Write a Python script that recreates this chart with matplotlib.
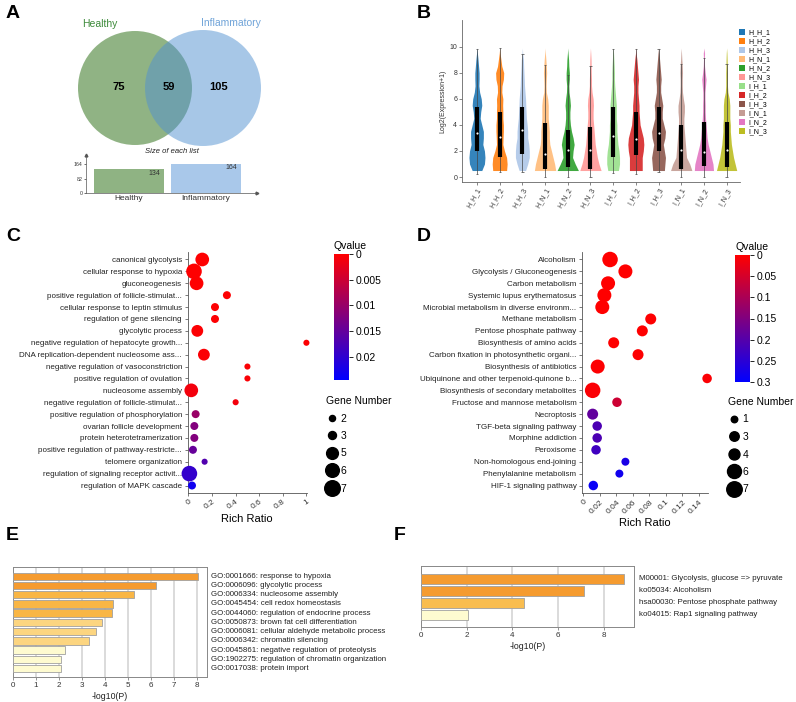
import numpy as np
import matplotlib
matplotlib.use('Agg')
import matplotlib.pyplot as plt
from matplotlib.patches import Circle, Patch
from matplotlib.lines import Line2D
from matplotlib.colors import LinearSegmentedColormap, Normalize
import matplotlib.cm as cm
import matplotlib.transforms as mtransforms

plt.rcParams['font.family'] = ['Liberation Sans', 'DejaVu Sans']

# ------------------------------------------------------------------ data
venn_sets = ['Healthy', 'Inflammatory']
venn_only = [75, 105]
venn_shared = 59
list_ticks = [0, 82, 164]

samples = ['H_H_1', 'H_H_2', 'H_H_3', 'H_N_1', 'H_N_2', 'H_N_3',
           'I_H_1', 'I_H_2', 'I_H_3', 'I_N_1', 'I_N_2', 'I_N_3']
violin_levels = [0.5, 1.0, 1.5, 2.0, 2.5, 3.0, 3.5, 4.0, 4.5, 5.0, 5.5, 6.0,
                 6.5, 7.0, 7.5, 8.0, 8.5, 9.0, 9.5, 9.9]
dens_H_H_1 = [0.45, 0.7, 0.75, 0.7, 0.55, 0.6, 0.6, 0.45, 0.3, 0.35, 0.45, 0.4,
              0.25, 0.18, 0.2, 0.2, 0.15, 0.1, 0.04, 0.0]
dens_H_H_2 = [0.65, 0.7, 0.65, 0.45, 0.3, 0.32, 0.35, 0.35, 0.3, 0.3, 0.28, 0.3,
              0.2, 0.22, 0.35, 0.38, 0.2, 0.12, 0.04, 0.0]
dens_H_H_3 = [0.3, 0.5, 0.65, 0.65, 0.6, 0.5, 0.5, 0.45, 0.38, 0.35, 0.32, 0.3,
              0.25, 0.2, 0.18, 0.15, 0.12, 0.1, 0.03, 0.0]
dens_H_N_1 = [1.0, 0.9, 0.75, 0.6, 0.45, 0.4, 0.4, 0.35, 0.3, 0.3, 0.3, 0.25,
              0.12, 0.1, 0.12, 0.15, 0.12, 0.08, 0.03, 0.0]
dens_H_N_2 = [1.0, 0.7, 0.45, 0.5, 0.6, 0.5, 0.35, 0.25, 0.2, 0.2, 0.25, 0.2,
              0.12, 0.1, 0.15, 0.15, 0.1, 0.08, 0.03, 0.0]
dens_H_N_3 = [1.0, 0.8, 0.65, 0.55, 0.45, 0.4, 0.35, 0.3, 0.25, 0.25, 0.28, 0.25,
              0.15, 0.1, 0.1, 0.08, 0.07, 0.06, 0.03, 0.0]
dens_I_H_1 = [0.5, 0.6, 0.6, 0.55, 0.45, 0.4, 0.35, 0.35, 0.3, 0.3, 0.3, 0.25,
              0.2, 0.15, 0.12, 0.12, 0.1, 0.07, 0.04, 0.0]
dens_I_H_2 = [0.6, 0.6, 0.6, 0.7, 0.75, 0.7, 0.55, 0.4, 0.35, 0.3, 0.3, 0.25,
              0.2, 0.2, 0.25, 0.2, 0.15, 0.1, 0.03, 0.0]
dens_I_H_3 = [0.55, 0.6, 0.65, 0.55, 0.45, 0.6, 0.65, 0.5, 0.35, 0.35, 0.4, 0.3,
              0.2, 0.2, 0.25, 0.2, 0.15, 0.1, 0.05, 0.0]
dens_I_N_1 = [1.0, 0.8, 0.5, 0.45, 0.4, 0.35, 0.3, 0.25, 0.25, 0.3, 0.3, 0.2,
              0.12, 0.1, 0.1, 0.12, 0.1, 0.06, 0.03, 0.0]
dens_I_N_2 = [0.9, 0.85, 0.7, 0.55, 0.4, 0.3, 0.25, 0.2, 0.15, 0.12, 0.12, 0.1,
              0.1, 0.15, 0.2, 0.12, 0.06, 0.04, 0.06, 0.0]
dens_I_N_3 = [0.95, 0.8, 0.65, 0.55, 0.45, 0.4, 0.35, 0.35, 0.3, 0.3, 0.3, 0.25,
              0.12, 0.08, 0.08, 0.08, 0.06, 0.05, 0.03, 0.0]
box_min = [0.25, 0.4, 0.4, 0.0, 0.0, 0.0, 0.3, 0.2, 0.4, 0.0, 0.0, 0.0]
box_q1 = [2.0, 1.5, 1.8, 0.65, 0.8, 0.65, 1.55, 1.7, 2.0, 0.65, 0.85, 0.75]
box_med = [3.4, 3.05, 3.6, 1.8, 2.05, 2.05, 3.15, 2.9, 3.35, 2.1, 1.95, 2.05]
box_q3 = [5.4, 5.0, 5.4, 4.15, 3.6, 3.85, 5.4, 5.0, 5.4, 4.0, 4.25, 4.2]
box_max = [9.8, 9.9, 9.45, 8.6, 7.8, 8.5, 9.8, 9.8, 9.8, 8.7, 9.1, 8.7]

go_terms = ['canonical glycolysis', 'cellular response to hypoxia', 'gluconeogenesis',
            'positive regulation of follicle-stimulat...', 'cellular response to leptin stimulus',
            'regulation of gene silencing', 'glycolytic process',
            'negative regulation of hepatocyte growth...',
            'DNA replication-dependent nucleosome ass...',
            'negative regulation of vasoconstriction', 'positive regulation of ovulation',
            'nucleosome assembly', 'negative regulation of follicle-stimulat...',
            'positive regulation of phosphorylation', 'ovarian follicle development',
            'protein heterotetramerization', 'positive regulation of pathway-restricte...',
            'telomere organization', 'regulation of signaling receptor activit...',
            'regulation of MAPK cascade']
go_ratio = [0.117, 0.047, 0.069, 0.326, 0.225, 0.225, 0.075, 1.0, 0.131, 0.5, 0.5,
            0.024, 0.4, 0.061, 0.05, 0.05, 0.038, 0.137, 0.008, 0.03]
go_qvalue = [0.0001, 0.0001, 0.0001, 0.0002, 0.0002, 0.0002, 0.0003, 0.0003, 0.0004,
             0.0005, 0.0005, 0.0012, 0.0012, 0.0098, 0.012, 0.012, 0.0147, 0.0167,
             0.0196, 0.023]
go_genes = [6, 7, 6, 3, 3, 3, 5, 2, 5, 2, 2, 6, 2, 3, 3, 3, 3, 2, 7, 3]
go_size_legend = [2, 3, 5, 6, 7]
go_q_ticks = [0, 0.005, 0.01, 0.015, 0.02]
go_q_max = 0.0245
go_ratio_ticks = [0, 0.2, 0.4, 0.6, 0.8, 1]

kegg_terms = ['Alcoholism', 'Glycolysis / Gluconeogenesis', 'Carbon metabolism',
              'Systemic lupus erythematosus', 'Microbial metabolism in diverse environm...',
              'Methane metabolism', 'Pentose phosphate pathway', 'Biosynthesis of amino acids',
              'Carbon fixation in photosynthetic organi...', 'Biosynthesis of antibiotics',
              'Ubiquinone and other terpenoid-quinone b...',
              'Biosynthesis of secondary metabolites', 'Fructose and mannose metabolism',
              'Necroptosis', 'TGF-beta signaling pathway', 'Morphine addiction', 'Peroxisome',
              'Non-homologous end-joining', 'Phenylalanine metabolism',
              'HIF-1 signaling pathway']
kegg_ratio = [0.0324, 0.051, 0.030, 0.0255, 0.023, 0.0817, 0.0715, 0.0368, 0.0663,
              0.0174, 0.150, 0.0113, 0.0408, 0.0113, 0.0168, 0.0168, 0.0154, 0.051,
              0.0437, 0.0121]
kegg_qvalue = [0.001, 0.001, 0.001, 0.001, 0.001, 0.002, 0.002, 0.002, 0.003, 0.003,
               0.005, 0.005, 0.06, 0.185, 0.21, 0.21, 0.225, 0.27, 0.28, 0.29]
kegg_genes = [7, 6, 6, 6, 6, 4, 4, 4, 4, 6, 3, 7, 3, 4, 3, 3, 3, 2, 2, 3]
kegg_size_legend = [1, 3, 4, 6, 7]
kegg_q_ticks = [0, 0.05, 0.1, 0.15, 0.2, 0.25, 0.3]
kegg_q_max = 0.3
kegg_ratio_ticks = [0, 0.02, 0.04, 0.06, 0.08, 0.1, 0.12, 0.14]

e_terms = ['GO:0001666: response to hypoxia', 'GO:0006096: glycolytic process',
           'GO:0006334: nucleosome assembly', 'GO:0045454: cell redox homeostasis',
           'GO:0044060: regulation of endocrine process',
           'GO:0050873: brown fat cell differentiation',
           'GO:0006081: cellular aldehyde metabolic process',
           'GO:0006342: chromatin silencing',
           'GO:0045861: negative regulation of proteolysis',
           'GO:1902275: regulation of chromatin organization',
           'GO:0017038: protein import']
e_logp = [8.04, 6.23, 5.25, 4.38, 4.30, 3.86, 3.64, 3.33, 2.29, 2.12, 2.10]

f_terms = ['M00001: Glycolysis, glucose => pyruvate', 'ko05034: Alcoholism',
           'hsa00030: Pentose phosphate pathway', 'ko04015: Rap1 signaling pathway']
f_logp = [8.86, 7.14, 4.52, 2.05]

# ------------------------------------------------------------------ styles
W, H = 796, 702
fig = plt.figure(figsize=(W / 100, H / 100), dpi=100)


def rect(l, t, r, b):
    return [l / W, 1 - b / H, (r - l) / W, (b - t) / H]


def panel_label(x, y, s):
    fig.text(x / W, 1 - y / H, s, fontsize=14, fontweight='bold', ha='left', va='top')


panel_label(6, 5, 'A')
panel_label(417, 5, 'B')
panel_label(6, 228, 'C')
panel_label(417, 228, 'D')
panel_label(6, 527, 'E')
panel_label(394, 527, 'F')

# ------------------------------------------------------------------ A: Venn
axv = fig.add_axes(rect(0, 0, 280, 150))
axv.set_xlim(0, 280)
axv.set_ylim(150, 0)
axv.axis('off')
axv.add_patch(Circle((135, 88), 57, facecolor='#23690b', alpha=0.5, lw=0))
axv.add_patch(Circle((203, 88), 58, facecolor='#5191d1', alpha=0.5, lw=0))
axv.text(100, 24, venn_sets[0], color='#3d8a3a', fontsize=7.5, ha='center', va='center')
axv.text(231, 23, venn_sets[1], color='#6fa3d8', fontsize=7.5, ha='center', va='center')
axv.text(119, 87, str(venn_only[0]), fontsize=8, fontweight='bold', ha='center', va='center')
axv.text(169, 87, str(venn_shared), fontsize=8, fontweight='bold', ha='center', va='center')
axv.text(219, 87, str(venn_only[1]), fontsize=8, fontweight='bold', ha='center', va='center')

list_sizes = [venn_only[0] + venn_shared, venn_only[1] + venn_shared]
axb = fig.add_axes(rect(86, 155, 257, 193))
axb.bar([0, 1], list_sizes, width=0.91, color=['#8fb383', '#a9c8ea'])
axb.set_xlim(-0.56, 1.66)
axb.set_ylim(0, 215)
axb.set_yticks(list_ticks)
axb.set_yticklabels([str(t) for t in list_ticks], fontsize=3.8, color='#333')
axb.set_xticks([0, 1])
axb.set_xticklabels(venn_sets, fontsize=6, color='#333')
axb.tick_params(axis='x', length=0, pad=1.5)
axb.tick_params(axis='y', length=1.5, width=0.4, pad=1)
for sp in ['top', 'right']:
    axb.spines[sp].set_visible(False)
for sp in ['left', 'bottom']:
    axb.spines[sp].set_linewidth(0.5)
    axb.spines[sp].set_color('#555')
axb.plot([0], [1], marker='^', ms=2, color='#555', transform=axb.transAxes, clip_on=False)
axb.plot([1], [0], marker='>', ms=2, color='#555', transform=axb.transAxes, clip_on=False)
for i, v in enumerate(list_sizes):
    axb.text(i + 0.40, v - 2, str(v), fontsize=5, ha='right', va='top', color='#333')
axb.set_title('Size of each list', fontsize=5.5, style='italic', pad=1, color='#222')

# ------------------------------------------------------------------ B: violins
violin_colors = ['#1f77b4', '#ff7f0e', '#aec7e8', '#ffbb78', '#2ca02c', '#ff9896',
                 '#98df8a', '#d62728', '#8c564b', '#c49c94', '#e377c2', '#bcbd22']
densities = [dens_H_H_1, dens_H_H_2, dens_H_H_3, dens_H_N_1, dens_H_N_2, dens_H_N_3,
             dens_I_H_1, dens_I_H_2, dens_I_H_3, dens_I_N_1, dens_I_N_2, dens_I_N_3]
axB = fig.add_axes(rect(462, 20, 740, 182))
lev = np.array(violin_levels)
pos = np.arange(len(samples))
for i, d in enumerate(densities):
    w = np.array(d) * 0.47
    axB.fill_betweenx(lev, i - w, i + w, color=violin_colors[i], lw=0, alpha=0.9, zorder=2)
axB.vlines(pos, box_min, box_max, color='#444', lw=0.5, zorder=3)
axB.hlines(box_min, pos - 0.05, pos + 0.05, color='#444', lw=0.5, zorder=3)
axB.hlines(box_max, pos - 0.05, pos + 0.05, color='#444', lw=0.5, zorder=3)
axB.vlines(pos, box_q1, box_q3, color='black', lw=3.0, zorder=4)
axB.scatter(pos, box_med, s=2.5, color='white', zorder=5, lw=0)
axB.set_xlim(-0.66, 11.59)
axB.set_ylim(-0.38, 12.05)
axB.set_yticks([0, 2, 4, 6, 8, 10])
axB.set_yticklabels(['0', '2', '4', '6', '8', '10'], fontsize=5, color='#333')
axB.set_xticks(pos)
axB.set_xticklabels(samples, fontsize=5, rotation=60, ha='right', rotation_mode='anchor',
                    color='#333')
axB.tick_params(length=2, width=0.5, pad=1.5, color='#555')
axB.set_ylabel('Log2(Expression+1)', fontsize=5, labelpad=2, color='#333')
for sp in ['top', 'right']:
    axB.spines[sp].set_visible(False)
for sp in ['left', 'bottom']:
    axB.spines[sp].set_linewidth(0.6)
    axB.spines[sp].set_color('#666')
handles = [Patch(facecolor=c, edgecolor='none') for c in violin_colors]
fig.legend(handles, samples, loc='upper left', bbox_to_anchor=(739 / W, 1 - 29 / H),
           frameon=False, fontsize=5, handlelength=0.9, handleheight=0.9,
           handletextpad=0.4, labelspacing=0.25, borderpad=0, borderaxespad=0)

# ------------------------------------------------------------------ C, D: bubbles
qcmap = LinearSegmentedColormap.from_list('qv', ['#ff0000', '#0000ff'])


def bubble_panel(ax_rect, xlim, terms, ratio, qv, genes, qmax, size_legend, qticks,
                 xticks, xticklabels, rot, cbar_rect, leg_anchor, dfun):
    ax = fig.add_axes(rect(*ax_rect))
    y = np.arange(len(terms))
    norm = Normalize(0, qmax)
    sizes = [(dfun(g) * 0.72) ** 2 for g in genes]
    ax.scatter(ratio, y, s=sizes, c=qv, cmap=qcmap, norm=norm, lw=0, zorder=3, clip_on=False)
    ax.set_xlim(*xlim)
    ax.set_ylim(len(terms) - 1 + 0.63, -0.63)
    ax.set_yticks(y)
    ax.set_yticklabels(terms, fontsize=5.8, color='#222')
    ax.set_xticks(xticks)
    ax.set_xticklabels(xticklabels, fontsize=6, rotation=rot, ha='right',
                       rotation_mode='anchor', color='#333')
    ax.tick_params(length=2.5, width=0.5, pad=1.5, color='#444')
    ax.set_xlabel('Rich Ratio', fontsize=8, labelpad=2)
    for sp in ['top', 'right']:
        ax.spines[sp].set_visible(False)
    for sp in ['left', 'bottom']:
        ax.spines[sp].set_linewidth(0.6)
        ax.spines[sp].set_color('#555')
    cax = fig.add_axes(rect(*cbar_rect))
    cb = fig.colorbar(cm.ScalarMappable(norm=norm, cmap=qcmap), cax=cax)
    cb.outline.set_visible(False)
    cax.invert_yaxis()
    cb.set_ticks(qticks)
    cb.set_ticklabels([('%g' % t) for t in qticks])
    cax.tick_params(labelsize=7.5, length=3, width=0.6, pad=1.5)
    cax.text(0, 1.02, 'Qvalue', transform=cax.transAxes, fontsize=7.5, ha='left', va='bottom')
    hs = [Line2D([], [], ls='', marker='o', color='black', ms=dfun(g) * 0.72)
          for g in size_legend]
    ax.legend(hs, [str(g) for g in size_legend], loc='upper left',
              bbox_to_anchor=(leg_anchor[0] / W, 1 - leg_anchor[1] / H),
              bbox_transform=fig.transFigure, frameon=False, title='Gene Number',
              fontsize=7.5, title_fontsize=7.5, alignment='left', handlelength=1.2,
              handletextpad=0.2, labelspacing=0.72, borderpad=0, borderaxespad=0)
    return ax


bubble_panel((187.5, 252, 307, 493), (-0.008, 1.005), go_terms, go_ratio, go_qvalue,
             go_genes, go_q_max, go_size_legend, go_q_ticks, go_ratio_ticks,
             ['%g' % t for t in go_ratio_ticks], 35, (334, 254, 349, 380), (326, 396),
             lambda g: 2.3 + 1.9 * g)
bubble_panel((582, 252, 708, 493), (-0.0016, 0.1511), kegg_terms, kegg_ratio, kegg_qvalue,
             kegg_genes, kegg_q_max, kegg_size_legend, kegg_q_ticks, kegg_ratio_ticks,
             ['%g' % t for t in kegg_ratio_ticks], 45, (735, 255, 750, 382), (728, 397),
             lambda g: 5.0 + 1.5 * g)

# ------------------------------------------------------------------ E, F: bars
def bar_panel(ax_rect, xlim, xticks, terms, vals, colors, ylim, height):
    ax = fig.add_axes(rect(*ax_rect))
    y = np.arange(len(terms))
    ax.barh(y, vals, height=height, color=colors, edgecolor='#a0a0a0', lw=0.6, zorder=3)
    ax.set_xlim(*xlim)
    ax.set_ylim(*ylim)
    ax.set_yticks([])
    ax.set_xticks(xticks)
    ax.set_xticklabels([str(t) for t in xticks], fontsize=5.8, color='#333')
    ax.tick_params(axis='x', length=2, width=0.5, pad=1.5, color='#666')
    ax.xaxis.grid(True, color='#d4d4d4', lw=1.2, zorder=0)
    ax.set_axisbelow(True)
    for sp in ax.spines.values():
        sp.set_color('#888')
        sp.set_linewidth(0.7)
    ax.set_xlabel('-log10(P)', fontsize=6.3, labelpad=2, color='#222')
    tr = mtransforms.blended_transform_factory(ax.transAxes, ax.transData)
    for i, t in enumerate(terms):
        ax.text(1.02, i, t, transform=tr, fontsize=5.7, va='center', ha='left', color='#222')
    return ax


e_colors = ['#f59b2f', '#f59b2f', '#f9b645', '#f9b645', '#f9b645', '#fcd580', '#fcd580',
            '#fcd580', '#fefbd0', '#fefbd0', '#fefbd0']
f_colors = ['#f59b2f', '#f59b2f', '#f9bd4f', '#fefbd0']
bar_panel((12.7, 567, 206.7, 677), (0, 8.43), list(range(0, 9)), e_terms, e_logp, e_colors,
          (10.92, -1.0), 0.8)
bar_panel((420.7, 566, 634.3, 627.3), (0, 9.32), [0, 2, 4, 6, 8], f_terms, f_logp, f_colors,
          (4.03, -1.08), 0.78)

fig.savefig('out.png', dpi=100)
